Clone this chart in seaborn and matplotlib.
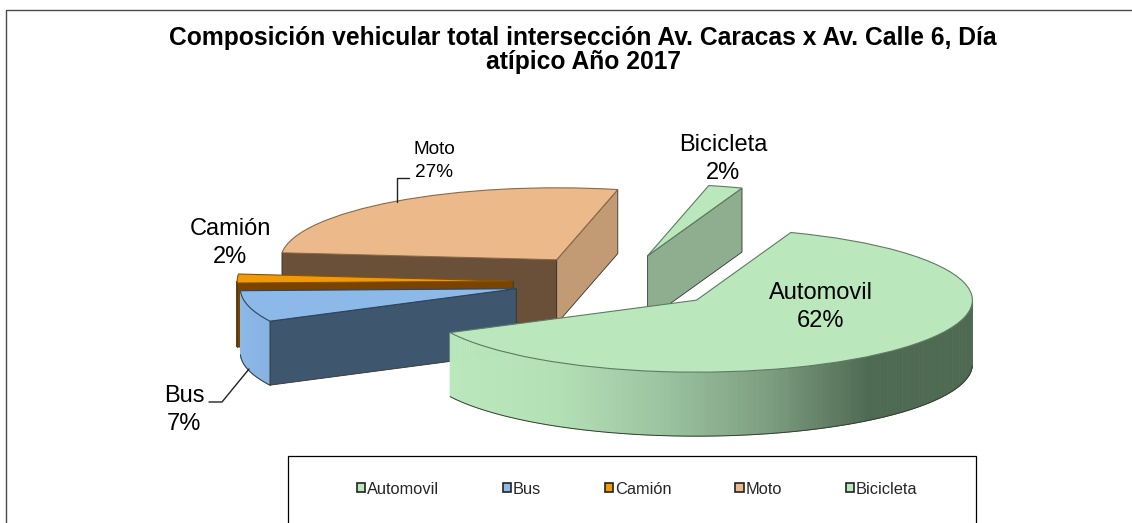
import matplotlib

matplotlib.use("Agg")
import matplotlib.pyplot as plt
import numpy as np
import seaborn as sns
from matplotlib.lines import Line2D
from matplotlib.patches import Patch, Rectangle

W, H = 1132, 523

# chart data
labels = ["Automovil", "Bus", "Camión", "Moto", "Bicicleta"]
shares = [62, 7, 2, 27, 2]

title = "Composición vehicular total intersección Av. Caracas x Av. Calle 6, Día\natípico Año 2017"

# slice styling
top_colors = ["#bae8bc", "#8db9e8", "#f09a0a", "#ebb98a", "#bae8bc"]
edge_colors = ["#5f7a62", "#2c4560", "#8a5200", "#8a6a4a", "#5f7a62"]
# colour of the straight side at the low / high angle end of each slice
face_colors = {
    "Automovil": (None, None),
    "Bus": (None, "#3f566f"),
    "Camión": (None, "#7a4300"),
    "Moto": ("#c29b74", "#6b5039"),
    "Bicicleta": ("#8fae90", None),
}
wall_cmaps = {
    "Automovil": sns.blend_palette(["#bae8bc", "#b4e0b6", "#9cc4a0", "#7f9f82", "#4f6a52", "#4f6a52"], as_cmap=True),
    "Bus": sns.blend_palette(["#8db9e8", "#86b2e2"], as_cmap=True),
    "Camión": sns.blend_palette(["#7a4300", "#7a4300"], as_cmap=True),
}

# pie geometry in pixels of the picture
cx, cy = 618, 282
rx, ry = 276, 72
depth = 64 / ry


def px(x, y):
    return x / W, 1 - y / H


sns.set_theme(style="white", font="Liberation Sans")
fig = plt.figure(figsize=(W / 100, H / 100), dpi=100)
ax = fig.add_axes([0, 0, 1, 1])

wedges, _ = ax.pie(
    shares,
    colors=top_colors,
    explode=[0.38] * len(shares),
    startangle=70,
    counterclock=False,
    wedgeprops={"linewidth": 0.8},
)
ax.set_aspect("auto")
ax.set_xlim(-cx / rx, (W - cx) / rx)
ax.set_ylim((cy - H) / ry, cy / ry)
ax.axis("off")


def draw_face(center, theta, color, z):
    t = np.radians(theta)
    rim = center + np.array([np.cos(t), np.sin(t)])
    xs = [center[0], rim[0], rim[0], center[0]]
    ys = [center[1], rim[1], rim[1] - depth, center[1] - depth]
    ax.fill(xs, ys, facecolor=color, edgecolor="#33332d", linewidth=0.6, zorder=z)


def draw_wall(name, center, theta1, theta2, z):
    # outer rim, only the part that faces the viewer
    angles = np.radians(np.linspace(theta1, theta2, 241))
    angles = angles[np.sin(angles) <= 0]
    if len(angles) < 2 or name not in wall_cmaps:
        return
    xs = center[0] + np.cos(angles)
    ys = center[1] + np.sin(angles)
    span = (xs - xs.min()) / max(xs.max() - xs.min(), 1e-6)
    for i in range(len(angles) - 1):
        color = wall_cmaps[name](span[i])
        ax.fill(
            [xs[i], xs[i + 1], xs[i + 1], xs[i]],
            [ys[i], ys[i + 1], ys[i + 1] - depth, ys[i] - depth],
            facecolor=color, edgecolor=color, linewidth=0.6, zorder=z,
        )
    ax.plot(xs, ys - depth, color="#33402f", linewidth=0.7, zorder=z + 0.1)
    ax.plot([xs[-1], xs[-1]], [ys[-1], ys[-1] - depth], color="#5a6a5a", linewidth=0.6, zorder=z + 0.1)


# back to front
draw_order = ["Bicicleta", "Moto", "Camión", "Bus", "Automovil"]
for n, name in enumerate(draw_order):
    i = labels.index(name)
    w = wedges[i]
    base = 10 + n * 10
    center = np.array(w.center)
    w.set_edgecolor(edge_colors[i])
    w.set_zorder(base + 5)
    low, high = face_colors[name]
    draw_wall(name, center, w.theta1, w.theta2, base)
    if low:
        draw_face(center, w.theta1, low, base + 1)
    if high:
        draw_face(center, w.theta2, high, base + 1)

# data labels
big = 17
for name, share, x, y, size, spacing in [
    ("Automovil", shares[0], 821, 307, big, 1.38),
    ("Bus", shares[1], 184, 410, big, 1.38),
    ("Camión", shares[2], 230, 243, big, 1.38),
    ("Moto", shares[3], 434, 161, 13.7, 1.48),
    ("Bicicleta", shares[4], 723, 159, big, 1.38),
]:
    xf, yf = px(x, y)
    fig.text(xf, yf, f"{name}\n{share}%", ha="center", va="center", fontsize=size,
             color="black", linespacing=spacing, zorder=100)

# leader lines
for pts in [[(397, 202), (397, 178), (409, 178)], [(249, 369), (222, 402), (209, 402)]]:
    xy = [px(*p) for p in pts]
    fig.add_artist(Line2D([p[0] for p in xy], [p[1] for p in xy], color="#222222", linewidth=1.0))

# chart frame, cut off at the right and the bottom of the picture
for pts in [[(6, H), (6, 10), (W, 10)]]:
    xy = [px(*p) for p in pts]
    fig.add_artist(Line2D([p[0] for p in xy], [p[1] for p in xy], color="#4a4a4a", linewidth=1.0))

xt, yt = px(583, 50)
fig.text(xt, yt, title, ha="center", va="center", fontsize=17.7, fontweight="bold", color="black", linespacing=1.0)

# legend box runs past the bottom edge
x0, y0 = px(288, H + 5)
x1, y1 = px(976, 456)
fig.add_artist(Rectangle((x0, y0), x1 - x0, y1 - y0, transform=fig.transFigure,
                         facecolor="white", edgecolor="black", linewidth=0.9))
handles = [Patch(facecolor=c, edgecolor="#222222", linewidth=1.2, label=l) for c, l in zip(top_colors, labels)]
lx, ly = px(637, 489)
leg = fig.legend(
    handles=handles, ncol=5, loc="center", bbox_to_anchor=(lx, ly), frameon=False,
    fontsize=11.8, handlelength=0.5, handleheight=0.5, handletextpad=0.1, columnspacing=3.9,
)
leg.set_zorder(50)

fig.savefig("out.png", dpi=100, facecolor="white")
